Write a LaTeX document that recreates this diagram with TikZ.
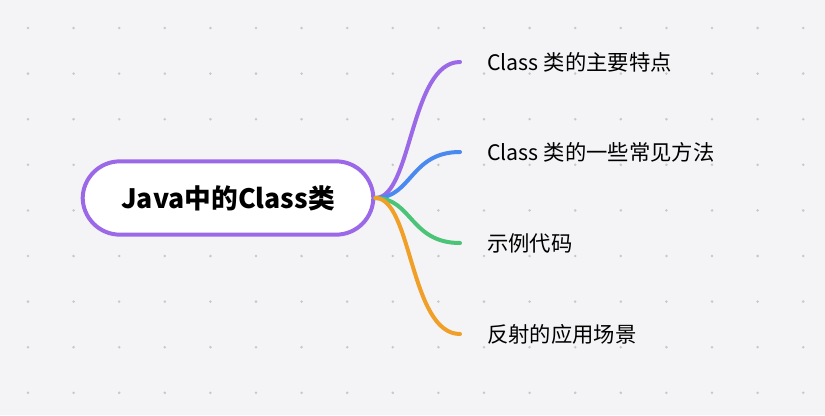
\documentclass[tikz,border=0pt]{standalone}
\usepackage{fontspec}
\setmainfont{Noto Sans CJK SC}
\definecolor{bgc}{RGB}{244,244,246}
\definecolor{dotc}{RGB}{200,200,204}
\definecolor{purp}{RGB}{155,105,232}
\definecolor{blu}{RGB}{74,138,240}
\definecolor{grn}{RGB}{76,196,120}
\definecolor{orn}{RGB}{240,160,40}
\tikzset{
  branch/.style={line width=3pt, line cap=round},
  leaf/.style={anchor=west, inner sep=0.75pt, font=\fontsize{16}{19}\selectfont},
}
\begin{document}
\begin{tikzpicture}[x=0.75pt,y=0.75pt,yscale=-1,xscale=1]
% background with dot grid
\fill[bgc] (0,0) rectangle (825,415);
\useasboundingbox (0,0) rectangle (825,415);
\foreach \i in {0,...,17}{
  \foreach \j in {0,...,8}{
    \fill[dotc] (28+45.6*\i,28+45.6*\j) circle (1.4);
  }
}
% root
\node[draw=purp, line width=3pt, fill=white, rounded corners=28pt, minimum width=218pt, minimum height=55pt, font=\bfseries\fontsize{20}{24}\selectfont] (root) at (228,198) {Java中的Class类};
% leaves
\node[leaf] (l1) at (486,62) {Class 类的主要特点};
\node[leaf] (l2) at (486,152) {Class 类的一些常见方法};
\node[leaf] (l3) at (486,243) {示例代码};
\node[leaf] (l4) at (486,334) {反射的应用场景};
% branches
\coordinate (s) at (root.east);
\coordinate (e1) at (460,62);
\coordinate (e2) at (460,152);
\coordinate (e3) at (460,243);
\coordinate (e4) at (460,334);
\draw[branch, purp] (s) .. controls (412,198) and (410,62) .. (e1);
\draw[branch, blu] (s) .. controls (412,198) and (410,152) .. (e2);
\draw[branch, grn] (s) .. controls (412,198) and (410,243) .. (e3);
\draw[branch, orn] (s) .. controls (412,198) and (410,334) .. (e4);
\end{tikzpicture}
\end{document}
